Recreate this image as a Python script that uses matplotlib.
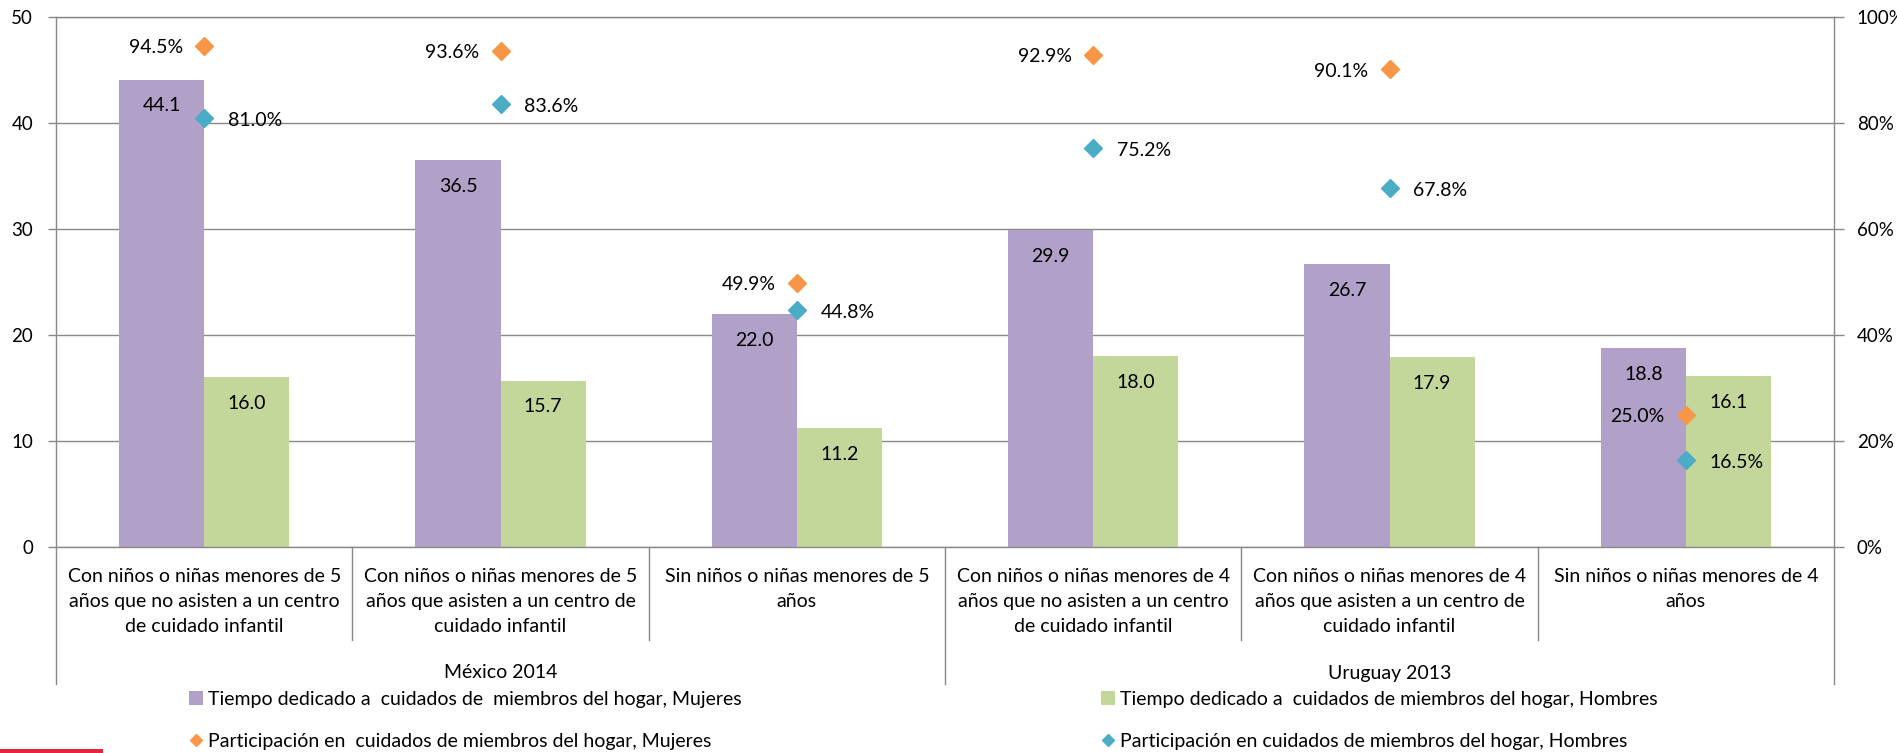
import matplotlib
matplotlib.use("Agg")
import matplotlib.pyplot as plt
from matplotlib.patches import Patch, Rectangle
from matplotlib.lines import Line2D
import matplotlib.transforms as mtransforms
import numpy as np

plt.rcParams['font.family'] = ['Lato', 'DejaVu Sans']

categories = [
    "Con niños o niñas menores de 5\naños que no asisten a un centro\nde cuidado infantil",
    "Con niños o niñas menores de 5\naños que asisten a un centro de\ncuidado infantil",
    "Sin niños o niñas menores de 5\naños",
    "Con niños o niñas menores de 4\naños que no asisten a un centro\nde cuidado infantil",
    "Con niños o niñas menores de 4\naños que asisten a un centro de\ncuidado infantil",
    "Sin niños o niñas menores de 4\naños",
]
groups = ["México 2014", "Uruguay 2013"]
group_sizes = [3, 3]

tiempo_mujeres = [44.1, 36.5, 22.0, 29.9, 26.7, 18.8]
tiempo_hombres = [16.0, 15.7, 11.2, 18.0, 17.9, 16.1]
part_mujeres = [94.5, 93.6, 49.9, 92.9, 90.1, 25.0]
part_hombres = [81.0, 83.6, 44.8, 75.2, 67.8, 16.5]

legend_labels = [
    "Tiempo dedicado a  cuidados de  miembros del hogar, Mujeres",
    "Tiempo dedicado a  cuidados de miembros del hogar, Hombres",
    "Participación en  cuidados de miembros del hogar, Mujeres",
    "Participación en cuidados de miembros del hogar, Hombres",
]

PURPLE = "#B1A0C7"
GREEN = "#C4D79B"
ORANGE = "#F79646"
BLUE = "#4BACC6"
GRAY = "#898989"
FS = 14

W, H = 1897, 753
fig = plt.figure(figsize=(W / 100, H / 100), dpi=100)
ax = fig.add_axes([56 / W, 1 - 547 / H, (1834 - 56) / W, (547 - 17) / H])

x = np.arange(len(categories))
bw = 0.287
b1 = ax.bar(x - bw / 2, tiempo_mujeres, bw, color=PURPLE, zorder=2)
b2 = ax.bar(x + bw / 2, tiempo_hombres, bw, color=GREEN, zorder=2)

for bars, vals in ((b1, tiempo_mujeres), (b2, tiempo_hombres)):
    for rect, v in zip(bars, vals):
        ax.annotate(f"{v:.1f}", xy=(rect.get_x() + rect.get_width() / 2, v),
                    xytext=(0, -19), textcoords="offset points",
                    ha="center", va="center", fontsize=FS, color="black", zorder=5)

ax.set_xlim(-0.5, len(categories) - 0.5)
ax.set_ylim(0, 50)
ax.set_yticks(np.arange(0, 51, 10))
ax.yaxis.grid(True, color=GRAY, linewidth=1.0)
ax.set_axisbelow(True)
ax.tick_params(axis="y", length=6, width=1.0, color=GRAY, pad=10.5, labelsize=13.5)
ax.set_xticks(x)
ax.set_xticklabels(categories, fontsize=FS, linespacing=1.58)
ax.tick_params(axis="x", length=0, pad=15)
for s in ("left", "right", "bottom", "top"):
    ax.spines[s].set_color(GRAY)
    ax.spines[s].set_linewidth(1.0)

# multi-level category axis separators
trans = mtransforms.blended_transform_factory(ax.transData, ax.transAxes)
axh = 530.0
cat_bottom = -(640 - 547) / axh
grp_bottom = -(684 - 547) / axh
bounds = np.cumsum([0] + group_sizes) - 0.5
for i in range(len(categories) + 1):
    b = i - 0.5
    if b in bounds:
        ax.plot([b, b], [0, grp_bottom], transform=trans, color=GRAY, lw=1.0, clip_on=False)
    else:
        ax.plot([b, b], [0, cat_bottom], transform=trans, color=GRAY, lw=1.0, clip_on=False)
for gi, g in enumerate(groups):
    center = (bounds[gi] + bounds[gi + 1]) / 2
    ax.text(center, -(673 - 547) / axh, g, transform=trans, ha="center", va="center",
            fontsize=FS, color="black")

ax2 = ax.twinx()
ax2.set_ylim(0, 100)
ax2.set_yticks(np.arange(0, 101, 20))
ax2.set_yticklabels([f"{v}%" for v in range(0, 101, 20)])
ax2.tick_params(axis="y", length=7, width=1.0, color=GRAY, pad=9.5, labelsize=13.5)
for s in ("left", "right", "bottom", "top"):
    ax2.spines[s].set_visible(False)

ms = 9.2
ax2.plot(x, part_mujeres, linestyle="none", marker="D", ms=ms, color=ORANGE, zorder=4)
ax2.plot(x, part_hombres, linestyle="none", marker="D", ms=ms, color=BLUE, zorder=4)
for xi, v in zip(x, part_mujeres):
    ax2.annotate(f"{v:.1f}%", xy=(xi, v), xytext=(-15.5, -1.2), textcoords="offset points",
                 ha="right", va="center", fontsize=FS, color="black")
for xi, v in zip(x, part_hombres):
    ax2.annotate(f"{v:.1f}%", xy=(xi, v), xytext=(17, -1.8), textcoords="offset points",
                 ha="left", va="center", fontsize=FS, color="black")

# legends
h_pm = Patch(facecolor=PURPLE, edgecolor="none")
h_gh = Patch(facecolor=GREEN, edgecolor="none")
h_om = Line2D([], [], linestyle="none", marker="D", ms=6.1, color=ORANGE)
h_bh = Line2D([], [], linestyle="none", marker="D", ms=6.1, color=BLUE)
common = dict(frameon=False, fontsize=FS, handlelength=0.72, handleheight=0.72,
              handletextpad=0.25, borderpad=0, borderaxespad=0, labelspacing=1.3,
              loc="center left")
fig.legend([h_pm, h_om], [legend_labels[0], legend_labels[2]],
           bbox_to_anchor=(189 / W, 1 - 720.5 / H), **common)
fig.legend([h_gh, h_bh], [legend_labels[1], legend_labels[3]],
           bbox_to_anchor=(1101 / W, 1 - 720.5 / H), **common)

# red stripe at bottom-left
fig.patches.append(Rectangle((0, 0), 103 / W, 4 / H, transform=fig.transFigure,
                             facecolor="#E8233F", edgecolor="none"))

fig.savefig("out.png", dpi=100)
